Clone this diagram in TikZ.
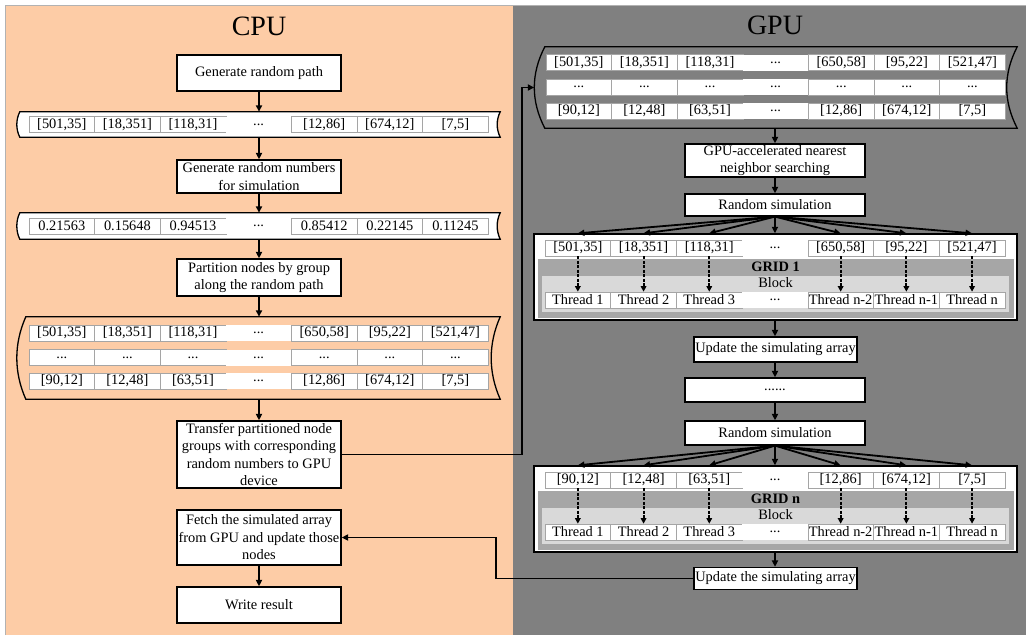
\documentclass[tikz,border=0pt]{standalone}
\usepackage{fontspec}
\setmainfont{Liberation Serif}
\usetikzlibrary{arrows.meta,calc,positioning}

\definecolor{cpuback}{RGB}{253,204,166}
\definecolor{gpuback}{RGB}{128,128,128}
\definecolor{gridgray}{RGB}{166,166,166}
\definecolor{blockgray}{RGB}{217,217,217}
\definecolor{cellline}{RGB}{165,165,165}

% three plain dots for the gaps in the arrays
\newcommand\ellip{...}

\tikzset{
	stepbox/.style={draw,line width=1.3pt,fill=white,align=center,inner sep=1pt,
		minimum width=164pt,font=\fontsize{14.4}{17.5}\selectfont},
	cell/.style={draw=cellline,line width=0.6pt,fill=white,inner sep=0pt,
		minimum width=65.6pt,minimum height=16pt,font=\fontsize{14.4}{16}\selectfont},
	dotcell/.style={cell,draw=none},
	flow/.style={line width=1.8pt,-{Triangle[length=6.5pt,width=6pt]}},
	dasharrow/.style={line width=1.9pt,dash pattern=on 3pt off 1.5pt,-{Triangle[length=5.5pt,width=5.5pt]}},
	paneltitle/.style={font=\fontsize{28}{30}\selectfont},
	gridframe/.style={draw,line width=1.4pt,fill=white,minimum width=483pt,minimum height=86pt,inner sep=0pt},
	gridbox/.style={draw=black!35,fill=gridgray,minimum width=475pt,minimum height=58pt,inner sep=0pt},
	blockbox/.style={fill=blockgray,minimum width=467pt,minimum height=36pt,inner sep=0pt},
}

\begin{document}
\begin{tikzpicture}[x=1pt,y=-1pt]
	\useasboundingbox (0,0) rectangle (1026,635);
	% two panels
	\fill[cpuback] (5,5) rectangle (513,635);
	\fill[gpuback] (513,5) rectangle (1026,635);
	\draw[black!30,line width=0.6pt] (5,635) -- (5,5) -- (1026,5);
	\node[paneltitle] (cpu) at (259,26) {CPU};
	\node[paneltitle] (gpu) at (775,25) {GPU};
	
	% CPU steps
	\node[stepbox,minimum height=36pt] (genpath) at (259,73) {Generate random path};
	\node[inner sep=0pt,minimum width=480pt,minimum height=25pt] (arr1) at (260,124.5) {};
	\node[stepbox,minimum height=33pt] (genrand) at (259,176.5) {Generate random numbers\\for simulation};
	\node[inner sep=0pt,minimum width=480pt,minimum height=26pt] (arr2) at (260,226) {};
	\node[stepbox,minimum height=37pt] (partition) at (259,277.5) {Partition nodes by group\\along the random path};
	\node[inner sep=0pt,minimum width=474pt,minimum height=82pt] (arr3) at (263,358) {};
	\node[stepbox,minimum height=67pt] (transfer) at (259,454.5) {Transfer partitioned node\\groups with corresponding\\random numbers to GPU\\device};
	\node[stepbox,minimum height=55pt] (fetch) at (259,537.5) {Fetch the simulated array\\from GPU and update those\\nodes};
	\node[stepbox,minimum height=36pt] (write) at (259,605) {Write result};
	
	% GPU steps
	\node[inner sep=0pt,minimum width=472pt,minimum height=81pt] (garr) at (781,87.5) {};
	\node[stepbox,minimum width=180pt,minimum height=33pt] (nns) at (775,160.5) {GPU-accelerated nearest\\neighbor searching};
	\node[stepbox,minimum width=180pt,minimum height=22pt] (rsim1) at (775,205) {Random simulation};
	\node[stepbox,minimum width=163pt,minimum height=25pt] (upd1) at (775.5,349.5) {Update the simulating array};
	\node[stepbox,minimum width=180pt,minimum height=24pt] (more) at (775,390) {......};
	\node[stepbox,minimum width=180pt,minimum height=24pt] (rsim2) at (775,433) {Random simulation};
	\node[stepbox,minimum width=163pt,minimum height=22pt] (upd2) at (775.5,578.5) {Update the simulating array};
	
	% array tapes, both ends bent the same way
	\foreach \t/\bx/\by/\c in {arr1/4/8/white,arr2/4/8/white,arr3/12/27/cpuback,garr/14/27/gpuback}
	\draw[line width=1.3pt,fill=\c] (\t.north west) -- (\t.north east)
		.. controls +(-\bx,\by) and +(-\bx,-\by) .. (\t.south east) -- (\t.south west)
		.. controls +(-\bx,-\by) and +(-\bx,\by) .. (\t.north west) -- cycle;
	
	% random path
	\foreach \i/\s/\v in {1/cell/{[501,35]},2/cell/{[18,351]},3/cell/{[118,31]},4/dotcell/\ellip,5/cell/{[12,86]},6/cell/{[674,12]},7/cell/{[7,5]}}
	\node[\s] (a1-\i) at ({29+65.6*(\i-0.5)},124.5) {\v};
	% random numbers
	\foreach \i/\s/\v in {1/cell/0.21563,2/cell/0.15648,3/cell/0.94513,4/dotcell/\ellip,5/cell/0.85412,6/cell/0.22145,7/cell/0.11245}
	\node[\s] (a2-\i) at ({29+65.6*(\i-0.5)},226) {\v};
	% partitioned groups
	\foreach \i/\s/\v in {1/cell/{[501,35]},2/cell/{[18,351]},3/cell/{[118,31]},4/dotcell/\ellip,5/cell/{[650,58]},6/cell/{[95,22]},7/cell/{[521,47]}}
	\node[\s] (p1-\i) at ({29+65.6*(\i-0.5)},333) {\v};
	\foreach \i/\s in {1/cell,2/cell,3/cell,4/dotcell,5/cell,6/cell,7/cell}
	\node[\s] (p2-\i) at ({29+65.6*(\i-0.5)},357.5) {\ellip};
	\foreach \i/\s/\v in {1/cell/{[90,12]},2/cell/{[12,48]},3/cell/{[63,51]},4/dotcell/\ellip,5/cell/{[12,86]},6/cell/{[674,12]},7/cell/{[7,5]}}
	\node[\s] (p3-\i) at ({29+65.6*(\i-0.5)},381) {\v};
	
	% groups on the device
	\foreach \i/\s/\v in {1/cell/{[501,35]},2/cell/{[18,351]},3/cell/{[118,31]},4/dotcell/\ellip,5/cell/{[650,58]},6/cell/{[95,22]},7/cell/{[521,47]}}
	\node[\s] (d1-\i) at ({546+65.6*(\i-0.5)},62.5) {\v};
	\foreach \i/\s in {1/cell,2/cell,3/cell,4/dotcell,5/cell,6/cell,7/cell}
	\node[\s] (d2-\i) at ({546+65.6*(\i-0.5)},87) {\ellip};
	\foreach \i/\s/\v in {1/cell/{[90,12]},2/cell/{[12,48]},3/cell/{[63,51]},4/dotcell/\ellip,5/cell/{[12,86]},6/cell/{[674,12]},7/cell/{[7,5]}}
	\node[\s] (d3-\i) at ({546+65.6*(\i-0.5)},111) {\v};
	
	% grids: frame, grid, block and threads
	\foreach \g/\gy/\glabel in {g1/234/GRID 1,gn/466/GRID n}{
		\node[gridframe] (\g) at (775.5,\gy+43) {};
		\node[gridbox] (\g-grid) at (775.5,\gy+54) {};
		\node[blockbox] (\g-block) at (775.5,\gy+60) {};
		\node[font=\fontsize{14.4}{16}\selectfont\bfseries] (\g-label) at (775.5,\gy+33) {\glabel};
		\node[font=\fontsize{14.4}{16}\selectfont] (\g-blocklabel) at (775.5,\gy+49) {Block};
		\foreach \i/\s/\t in {1/cell/Thread 1,2/cell/Thread 2,3/cell/Thread 3,4/dotcell/\ellip,5/cell/Thread n-2,6/cell/Thread n-1,7/cell/Thread n}
		\node[\s] (\g-t\i) at ({545+65.7*(\i-0.5)},\gy+66) {\t};
	}
	\foreach \i/\s/\v in {1/cell/{[501,35]},2/cell/{[18,351]},3/cell/{[118,31]},4/dotcell/\ellip,5/cell/{[650,58]},6/cell/{[95,22]},7/cell/{[521,47]}}
	\node[\s] (g1-c\i) at ({545+65.7*(\i-0.5)},248) {\v};
	\foreach \i/\s/\v in {1/cell/{[90,12]},2/cell/{[12,48]},3/cell/{[63,51]},4/dotcell/\ellip,5/cell/{[12,86]},6/cell/{[674,12]},7/cell/{[7,5]}}
	\node[\s] (gn-c\i) at ({545+65.7*(\i-0.5)},480) {\v};
	
	% straight flow
	\foreach \p/\q in {genpath/arr1,arr1/genrand,genrand/arr2,arr2/partition,partition/arr3,arr3/transfer,fetch/write}
	\draw[flow] (\p.south -| transfer.south) -- (\q.north -| transfer.south);
	\foreach \p/\q in {garr/nns,nns/rsim1,g1/upd1,upd1/more,more/rsim2,gn/upd2}
	\draw[flow] (\p.south -| nns.south) -- (\q.north -| nns.south);
	
	% fan out to the grids, one thread per element
	\foreach \i in {1,...,7}{
		\draw[flow] (rsim1.south) -- (g1-c\i.north |- g1.north);
		\draw[flow] (rsim2.south) -- (gn-c\i.north |- gn.north);
	}
	\foreach \i in {1,2,3,5,6,7}{
		\draw[dasharrow] (g1-c\i) -- (g1-t\i);
		\draw[dasharrow] (gn-c\i) -- (gn-t\i);
	}
	
	% host <-> device
	\draw[flow] (transfer.east) -| ($(garr.west)+(-23,0)$) -- ($(garr.west)+(-10.5,0)$);
	\draw[flow] (upd2.west) -- ++(-197,0) |- (fetch.east);
\end{tikzpicture}
\end{document}
